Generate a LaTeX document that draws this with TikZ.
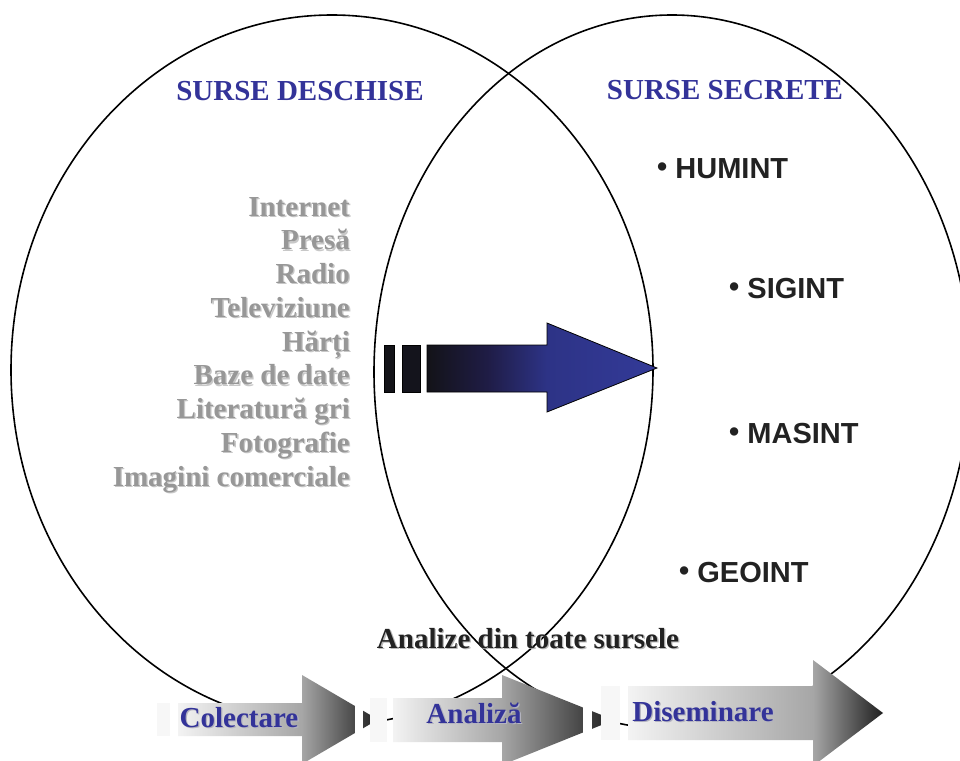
\documentclass[tikz,border=0pt]{standalone}
\usepackage{fontspec}
\setmainfont{Liberation Serif}
\newfontfamily\sansf{Liberation Sans}
\definecolor{ttblue}{HTML}{333399}
\definecolor{txgray}{HTML}{979797}
\definecolor{shgray}{HTML}{C8C8C8}
\definecolor{shblue}{HTML}{B4B4C0}
\definecolor{darktx}{HTML}{222222}
\definecolor{bA}{HTML}{131318}
\definecolor{bB}{HTML}{1F1C45}
\definecolor{bC}{HTML}{2D3386}
\definecolor{bD}{HTML}{333A98}
\definecolor{gL}{HTML}{F3F3F3}
\definecolor{gM}{HTML}{A6A6A6}
\definecolor{gR}{HTML}{1F1F1F}
\definecolor{stripe}{HTML}{F7F7F7}
\pgfdeclarehorizontalshading{bigsh}{100bp}{color(0bp)=(bA); color(25bp)=(bA); color(38bp)=(bB); color(51bp)=(bC); color(75bp)=(bD); color(100bp)=(bD)}
\pgfdeclarehorizontalshading{gshA}{100bp}{color(0bp)=(gL); color(25bp)=(gL); color(56bp)=(gM); color(75bp)=(gR); color(100bp)=(gR)}
\pgfdeclarehorizontalshading{gshB}{100bp}{color(0bp)=(gL); color(25bp)=(gL); color(49.7bp)=(gM); color(75bp)=(gR); color(100bp)=(gR)}
\pgfdeclarehorizontalshading{gshC}{100bp}{color(0bp)=(gL); color(25bp)=(gL); color(61.3bp)=(gM); color(75bp)=(gR); color(100bp)=(gR)}
\begin{document}
\begin{tikzpicture}[x=1pt,y=-1pt,
  sb/.style={font=\fontsize{29}{34}\selectfont\bfseries, inner sep=0pt},
  title/.style={sb, text=ttblue, anchor=base},
  bluelbl/.style={sb, text=ttblue, anchor=base},
  bluesh/.style={sb, text=shblue, anchor=base},
  graytx/.style={sb, text=txgray, anchor=base east},
  graysh/.style={sb, text=shgray, anchor=base east},
  darklbl/.style={sb, text=darktx, anchor=base},
  darksh/.style={sb, text=shgray!80!gray, anchor=base},
  intl/.style={font=\sansf\fontsize{29}{34}\selectfont\bfseries, text=darktx, inner sep=0pt, anchor=base west},
  ell/.style={line width=1.6pt, draw=black},
  whitestripe/.style={fill=white},
  lightstripe/.style={fill=stripe},
]
\useasboundingbox (0,0) rectangle (960,760);
\clip (0,0) rectangle (960,760);
\fill[white] (0,0) rectangle (960,760);

% ellipses
\draw[ell] (332,370) ellipse [x radius=321pt, y radius=355pt];
\draw[ell] (672,372) ellipse [x radius=298pt, y radius=357pt];

% big blue arrow
\draw[fill=bA, line width=0.8pt] (384,345) rectangle (394,392);
\draw[fill=bA!90!bB, line width=0.8pt] (402,345) rectangle (420,392);
\path[shade, shading=bigsh, draw=black, line width=0.8pt]
  (427,345) -- (547,345) -- (547,323) -- (657,368) -- (547,412) -- (547,392) -- (427,392) -- cycle;

% bottom arrows
\fill[whitestripe] (141,703) rectangle (150,736);
\fill[lightstripe] (157,703) rectangle (170,736);
\path[shade, shading=gshA]
  (178,703) -- (302,703) -- (302,675) -- (378,719.5) -- (302,764) -- (302,736) -- (178,736) -- cycle;

\fill[whitestripe] (355,698) rectangle (363,742);
\fill[lightstripe] (370,698) rectangle (387,742);
\path[shade, shading=gshB]
  (393,698) -- (502,698) -- (502,675) -- (614,720) -- (502,765) -- (502,742) -- (393,742) -- cycle;

\fill[whitestripe] (583,686) rectangle (592,740);
\fill[lightstripe] (601,686) rectangle (620,740);
\path[shade, shading=gshC]
  (628,686) -- (813,686) -- (813,660) -- (883,713) -- (813,766) -- (813,740) -- (628,740) -- cycle;

% titles
\node[title] (tdes) at (300,100) {SURSE DESCHISE};
\node[title] (tsec) at (725,99) {SURSE SECRETE};

% open sources list
\foreach \t [count=\i] in {Internet,Presă,Radio,Televiziune,Hărți,Baze de date,Literatură gri,Fotografie,Imagini comerciale}{
  \node[graysh] (ls\i) at (351.3,{216+(\i-1)*33.75+1.3}) {\t};
  \node[graytx] (l\i) at (350,{216+(\i-1)*33.75}) {\t};
}

% secret sources
\node[intl] (hum) at (657,178) {\raisebox{2pt}{•} HUMINT};
\node[intl] (sig) at (729,298) {\raisebox{2pt}{•} SIGINT};
\node[intl] (mas) at (729,443) {\raisebox{2pt}{•} MASINT};
\node[intl] (geo) at (679,582) {\raisebox{2pt}{•} GEOINT};

% all-source analysis
\node[darksh] (alls) at (529.3,649.3) {Analize din toate sursele};
\node[darklbl] (all) at (528,648) {Analize din toate sursele};

% process labels
\node[bluesh] (colS) at (240.3,728.3) {Colectare};
\node[bluelbl] (col) at (239,727) {Colectare};
\node[bluesh] (anaS) at (475.3,724.3) {Analiză};
\node[bluelbl] (ana) at (474,723) {Analiză};
\node[bluesh] (disS) at (704.3,722.3) {Diseminare};
\node[bluelbl] (dis) at (703,721) {Diseminare};
\end{tikzpicture}
\end{document}
